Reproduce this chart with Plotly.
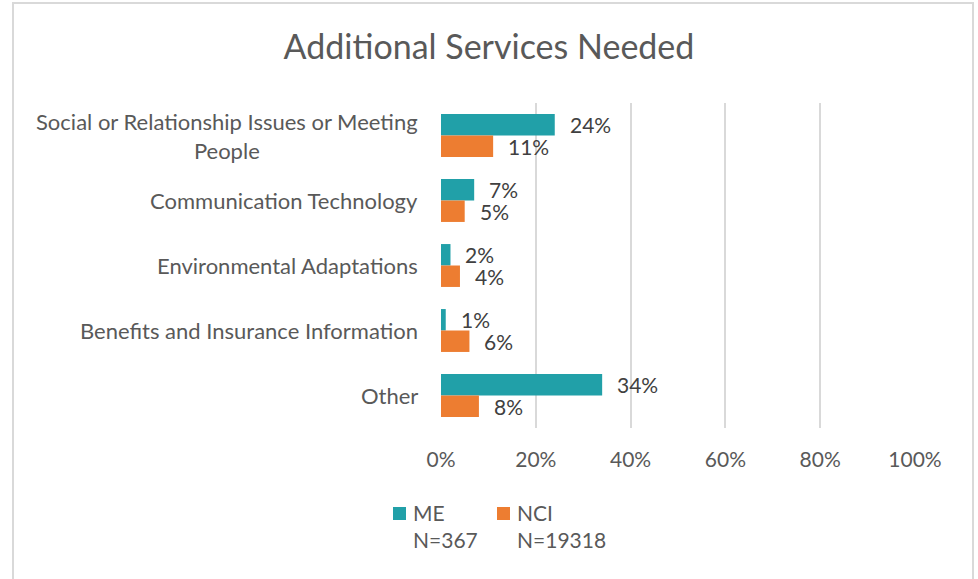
import plotly.graph_objects as go

categories = [
    "Social or Relationship Issues or Meeting<br>People",
    "Communication Technology",
    "Environmental Adaptations",
    "Benefits and Insurance Information",
    "Other",
]
me_values = [24, 7, 2, 1, 34]
nci_values = [11, 5, 4, 6, 8]
series_names = ["ME<br>N=367", "NCI<br>N=19318"]
x_ticks = [0, 20, 40, 60, 80, 100]

TEAL = "#21A0A8"
ORANGE = "#ED7D31"
LABEL_COLOR = "#404040"
AXIS_COLOR = "#595959"
FONT = "Lato, 'Open Sans', sans-serif"

W, H = 978, 579
L, R, T, B = 441, 63, 103, 151
plot_w = W - L - R
plot_h = H - T - B


def px_x(px):
    """Pixel column -> paper x."""
    return (px - L) / plot_w


def px_y(py):
    """Pixel row -> paper y."""
    return (H - B - py) / plot_h


fig = go.Figure()
series = [(series_names[0], me_values, TEAL), (series_names[1], nci_values, ORANGE)]
for name, vals, color in series:
    fig.add_trace(go.Bar(
        name=name,
        y=list(range(len(categories))),
        x=vals,
        orientation="h",
        marker=dict(color=color, line=dict(width=0)),
        showlegend=False,
    ))

annotations = []
shapes = []
n = len(categories)

# value labels placed just right of each bar end
bar_off = 0.165  # offset of each bar centre from the category centre (in category units)
for i in range(n):
    for vals, off in [(me_values, -bar_off), (nci_values, bar_off)]:
        annotations.append(dict(
            x=vals[i], y=i + off, xref="x", yref="y",
            text=f"{vals[i]}%", showarrow=False,
            xanchor="left", yanchor="middle", xshift=13,
            font=dict(size=21, color=LABEL_COLOR, family=FONT),
        ))

# category labels, centred multi-line text to the left of the axis
for i, cat in enumerate(categories):
    annotations.append(dict(
        x=0, y=i, xref="paper", yref="y",
        text=cat, showarrow=False, align="center",
        xanchor="right", yanchor="middle", xshift=-21,
        font=dict(size=22, color=AXIS_COLOR, family=FONT),
    ))

# legend: coloured square plus two-line label for each series
legend_x = [393, 497]
for (name, _, color), lx in zip(series, legend_x):
    shapes.append(dict(
        type="rect", xref="paper", yref="paper",
        x0=px_x(lx), x1=px_x(lx + 13), y0=px_y(520), y1=px_y(507),
        fillcolor=color, line=dict(width=0),
    ))
    annotations.append(dict(
        x=px_x(lx + 18), y=px_y(498), xref="paper", yref="paper",
        text=name, showarrow=False, align="left",
        xanchor="left", yanchor="top",
        font=dict(size=21, color=AXIS_COLOR, family=FONT),
    ))

# outer chart border
shapes.append(dict(
    type="rect", xref="paper", yref="paper",
    x0=px_x(13), x1=px_x(973), y0=px_y(590), y1=px_y(3),
    line=dict(color="#D9D9D9", width=2), fillcolor="rgba(0,0,0,0)",
))

fig.update_layout(
    width=W, height=H,
    margin=dict(l=L, r=R, t=T, b=B),
    paper_bgcolor="white", plot_bgcolor="white",
    barmode="group", bargap=0.34, bargroupgap=0,
    font=dict(family=FONT, color=AXIS_COLOR, size=21),
    title=dict(
        text="Additional Services Needed",
        x=0.5, xref="container", xanchor="center",
        y=1 - 47 / H, yref="container", yanchor="middle",
        font=dict(size=34, color=AXIS_COLOR, family=FONT),
    ),
    xaxis=dict(
        range=[0, 100], tickvals=x_ticks,
        ticktext=[f"{t}%" for t in x_ticks],
        showgrid=True, gridcolor="#D9D9D9", gridwidth=2,
        zeroline=False, showline=False, ticks="",
        ticklabelstandoff=17,
        tickfont=dict(size=21, color=AXIS_COLOR, family=FONT),
    ),
    yaxis=dict(
        range=[n - 0.5, -0.5], showticklabels=False,
        showgrid=False, zeroline=False, showline=False, ticks="",
        fixedrange=True,
    ),
    showlegend=False,
    annotations=annotations,
    shapes=shapes,
)

fig.write_html("out.html")
